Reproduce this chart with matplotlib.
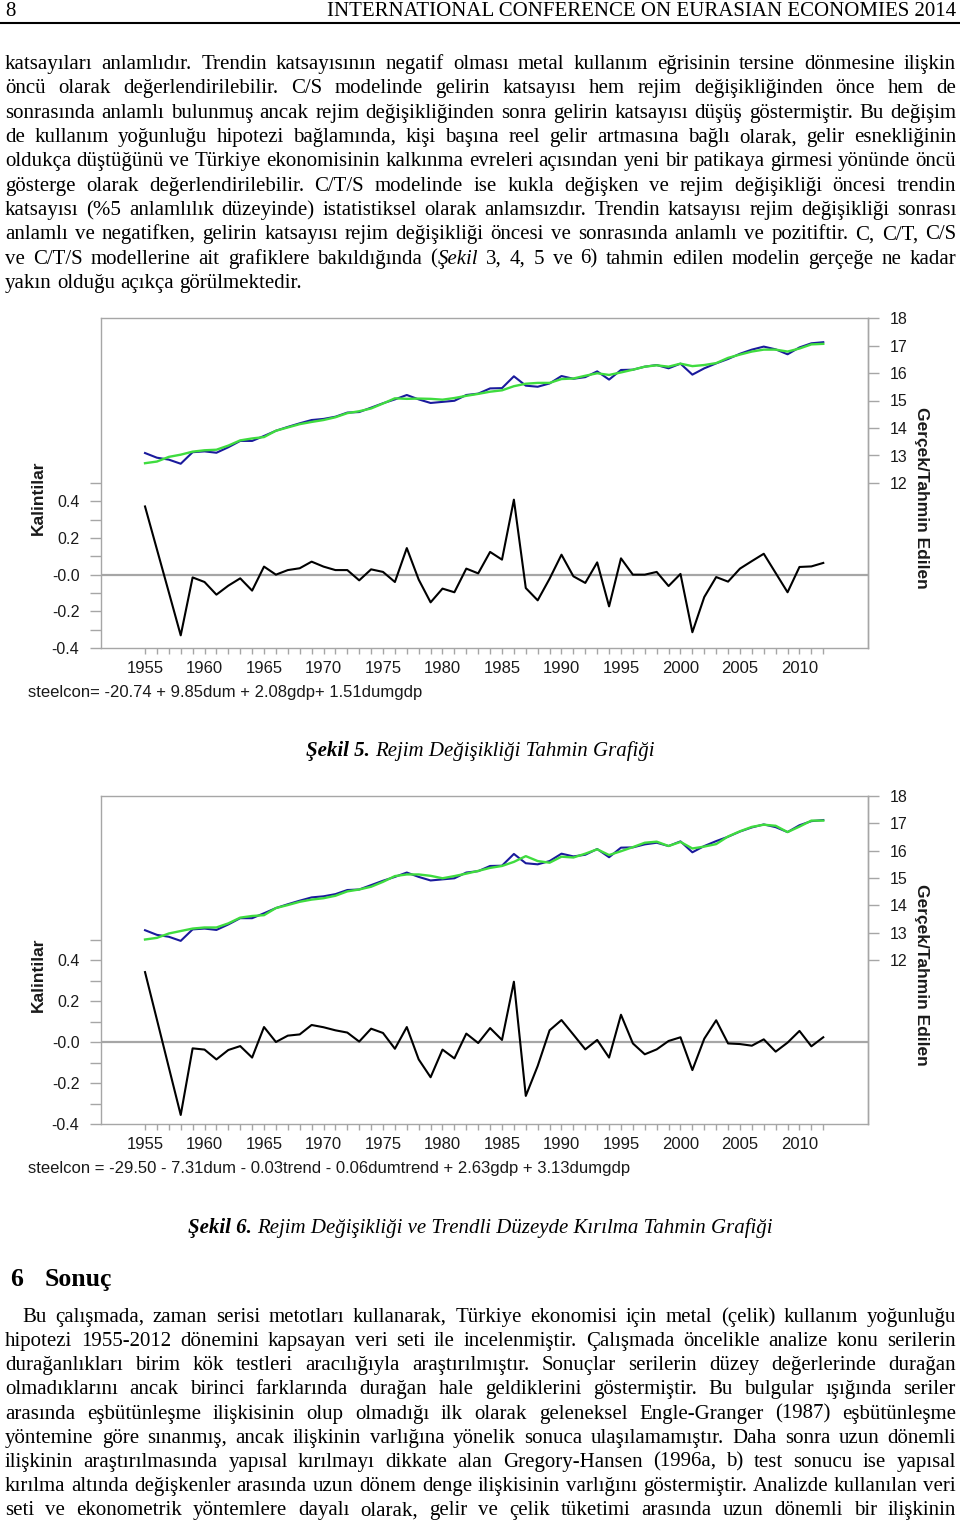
import numpy as np
import matplotlib
matplotlib.use('Agg')
import matplotlib.pyplot as plt
from matplotlib.font_manager import FontProperties
from matplotlib.lines import Line2D

plt.rcParams['font.family'] = 'Liberation Sans'

# ---- data (1955-2012) ----
years = np.arange(1955, 2013)

actual = [13.09, 12.92, 12.85, 12.70, 13.12, 13.15, 13.10, 13.30, 13.53, 13.53,
          13.71, 13.90, 14.04, 14.17, 14.29, 14.33, 14.41, 14.56, 14.58, 14.74,
          14.90, 15.04, 15.20, 15.04, 14.91, 14.95, 14.99, 15.20, 15.25, 15.44,
          15.45, 15.88, 15.54, 15.50, 15.62, 15.89, 15.79, 15.85, 16.06, 15.76,
          16.11, 16.12, 16.23, 16.29, 16.17, 16.34, 15.94, 16.17, 16.35, 16.51,
          16.70, 16.85, 16.96, 16.86, 16.68, 16.93, 17.08, 17.12]

resid5 = [0.372, 0.138, -0.096, -0.331, -0.015, -0.040, -0.109, -0.060, -0.020, -0.087,
          0.044, 0.000, 0.025, 0.035, 0.071, 0.044, 0.025, 0.025, -0.031, 0.029,
          0.015, -0.040, 0.145, -0.027, -0.151, -0.076, -0.096, 0.033, 0.007, 0.124,
          0.082, 0.409, -0.073, -0.140, -0.022, 0.109, -0.009, -0.045, 0.067, -0.173,
          0.089, 0.000, 0.000, 0.015, -0.062, 0.004, -0.314, -0.122, -0.013, -0.038,
          0.033, 0.074, 0.114, 0.009, -0.096, 0.042, 0.045, 0.064]

fitted5 = [12.72, 12.78, 12.95, 13.03, 13.14, 13.19, 13.21, 13.36, 13.55, 13.62,
           13.67, 13.90, 14.02, 14.14, 14.22, 14.29, 14.39, 14.54, 14.61, 14.71,
           14.89, 15.08, 15.06, 15.07, 15.06, 15.03, 15.09, 15.17, 15.24, 15.32,
           15.37, 15.52, 15.61, 15.64, 15.64, 15.78, 15.80, 15.90, 15.99, 15.93,
           16.02, 16.12, 16.23, 16.28, 16.23, 16.34, 16.25, 16.29, 16.36, 16.55,
           16.67, 16.78, 16.85, 16.85, 16.78, 16.89, 17.04, 17.06]

resid6 = [0.341, 0.109, -0.124, -0.356, -0.031, -0.037, -0.085, -0.039, -0.020, -0.076,
          0.073, 0.000, 0.031, 0.037, 0.083, 0.072, 0.057, 0.046, 0.002, 0.065,
          0.044, -0.033, 0.073, -0.085, -0.172, -0.037, -0.080, 0.041, -0.005, 0.068,
          0.010, 0.294, -0.263, -0.117, 0.057, 0.107, 0.036, -0.036, 0.010, -0.076,
          0.133, -0.007, -0.060, -0.036, 0.005, 0.023, -0.137, 0.016, 0.106, -0.007,
          -0.010, -0.018, 0.013, -0.047, -0.003, 0.054, -0.021, 0.023]

fitted6 = [12.75, 12.81, 12.97, 13.06, 13.15, 13.19, 13.19, 13.34, 13.55, 13.61,
           13.64, 13.90, 14.01, 14.13, 14.21, 14.26, 14.35, 14.51, 14.58, 14.68,
           14.86, 15.07, 15.13, 15.13, 15.08, 14.99, 15.07, 15.16, 15.26, 15.37,
           15.44, 15.59, 15.80, 15.62, 15.56, 15.78, 15.75, 15.89, 16.05, 15.84,
           15.98, 16.13, 16.29, 16.33, 16.17, 16.32, 16.08, 16.15, 16.24, 16.52,
           16.71, 16.87, 16.95, 16.91, 16.68, 16.88, 17.10, 17.10]

res_ticks = [-0.4, -0.2, 0.0, 0.2, 0.4]
res_ticklabels = ['-0.4', '-0.2', '-0.0', '0.2', '0.4']
res_minor = [-0.3, -0.1, 0.1, 0.3, 0.5]
lvl_ticks = [12, 13, 14, 15, 16, 17, 18]
year_ticks = list(range(1955, 2011, 5))

eq5 = 'steelcon= -20.74 + 9.85dum + 2.08gdp+ 1.51dumgdp'
eq6 = 'steelcon = -29.50 - 7.31dum - 0.03trend - 0.06dumtrend + 2.63gdp + 3.13dumgdp'

header_left = '8'
header_right = 'INTERNATIONAL CONFERENCE ON EURASIAN ECONOMIES 2014'

top_lines = [
    'katsayıları anlamlıdır. Trendin katsayısının negatif olması metal kullanım eğrisinin tersine dönmesine ilişkin',
    'öncü olarak değerlendirilebilir. C/S modelinde gelirin katsayısı hem rejim değişikliğinden önce hem de',
    'sonrasında anlamlı bulunmuş ancak rejim değişikliğinden sonra gelirin katsayısı düşüş göstermiştir. Bu değişim',
    'de kullanım yoğunluğu hipotezi bağlamında, kişi başına reel gelir artmasına bağlı olarak, gelir esnekliğinin',
    'oldukça düştüğünü ve Türkiye ekonomisinin kalkınma evreleri açısından yeni bir patikaya girmesi yönünde öncü',
    'gösterge olarak değerlendirilebilir. C/T/S modelinde ise kukla değişken ve rejim değişikliği öncesi trendin',
    'katsayısı (%5 anlamlılık düzeyinde) istatistiksel olarak anlamsızdır. Trendin katsayısı rejim değişikliği sonrası',
    'anlamlı ve negatifken, gelirin katsayısı rejim değişikliği öncesi ve sonrasında anlamlı ve pozitiftir. C, C/T, C/S',
    've C/T/S modellerine ait grafiklere bakıldığında (*Şekil* 3, 4, 5 ve 6) tahmin edilen modelin gerçeğe ne kadar',
    'yakın olduğu açıkça görülmektedir.',
]

bottom_lines = [
    'Bu çalışmada, zaman serisi metotları kullanarak, Türkiye ekonomisi için metal (çelik) kullanım yoğunluğu',
    'hipotezi 1955-2012 dönemini kapsayan veri seti ile incelenmiştir. Çalışmada öncelikle analize konu serilerin',
    'durağanlıkları birim kök testleri aracılığıyla araştırılmıştır. Sonuçlar serilerin düzey değerlerinde durağan',
    'olmadıklarını ancak birinci farklarında durağan hale geldiklerini göstermiştir. Bu bulgular ışığında seriler',
    'arasında eşbütünleşme ilişkisinin olup olmadığı ilk olarak geleneksel Engle-Granger (1987) eşbütünleşme',
    'yöntemine göre sınanmış, ancak ilişkinin varlığına yönelik sonuca ulaşılamamıştır. Daha sonra uzun dönemli',
    'ilişkinin araştırılmasında yapısal kırılmayı dikkate alan Gregory-Hansen (1996a, b) test sonucu ise yapısal',
    'kırılma altında değişkenler arasında uzun dönem denge ilişkisinin varlığını göstermiştir. Analizde kullanılan veri',
    'seti ve ekonometrik yöntemlere dayalı olarak, gelir ve çelik tüketimi arasında uzun dönemli bir ilişkinin',
]

GRAY = '#a6a6a6'
BLUE = '#1a1a9c'
GREEN = '#3fdc3f'
INK = '#1a1a1a'

W, H = 960, 1521
fig = plt.figure(figsize=(W / 100., H / 100.), dpi=100)
fig.patch.set_facecolor('white')
rend = fig.canvas.get_renderer()

def fx(x):
    return x / float(W)

def fy(y):
    return 1 - y / float(H)

body = FontProperties(family='Liberation Serif', size=15)
body_i = FontProperties(family='Liberation Serif', size=15, style='italic')
body_bi = FontProperties(family='Liberation Serif', size=15, style='italic', weight='bold')
head_b = FontProperties(family='Liberation Serif', size=18.5, weight='bold')

def width(s, prop):
    return rend.get_text_width_height_descent(s, prop, ismath=False)[0]

SPACE = width('a a', body) - width('aa', body)

def word_segs(word):
    segs = []
    for k, p in enumerate(word.split('*')):
        if p:
            segs.append((p, body_i if k % 2 else body))
    return segs

def paragraph(lines, base0, dy, x0=5, x1=956, indent=0, justify_last=False):
    for n, line in enumerate(lines):
        words = [word_segs(w) for w in line.split(' ')]
        ws = [sum(width(s, p) for s, p in wd) for wd in words]
        left = x0 + (indent if n == 0 else 0)
        last = (n == len(lines) - 1) and not justify_last
        if last:
            gap = SPACE
        else:
            gap = (x1 - left - sum(ws)) / (len(words) - 1)
        x = left
        base = base0 + n * dy
        for wd, w in zip(words, ws):
            xx = x
            for s, p in wd:
                fig.text(fx(xx), fy(base), s, fontproperties=p, va='baseline',
                         ha='left', color='black')
                xx += width(s, p)
            x += w + gap

def caption(segs, base, xc=480):
    ws = [width(s, p) for s, p in segs]
    total = sum(ws) + SPACE * (len(segs) - 1)
    x = xc - total / 2.
    for (s, p), w in zip(segs, ws):
        fig.text(fx(x), fy(base), s, fontproperties=p, va='baseline', ha='left')
        x += w + SPACE

def chart(top, bottom, res_lim, resid, fitted, eq, eq_y):
    ax = fig.add_axes([fx(101), fy(bottom), (868 - 101) / float(W), (bottom - top) / float(H)])
    ax.set_xlim(1951.3, 2015.76)
    ax.set_ylim(*res_lim)
    ax.axhline(0, color=GRAY, lw=1.6, zorder=1)
    ax.plot(years, resid, color='black', lw=1.5, zorder=3)
    for s in ax.spines.values():
        s.set_color(GRAY)
        s.set_linewidth(1.0)
    ax.set_xticks(year_ticks)
    ax.set_xticks(years, minor=True)
    ax.set_yticks(res_ticks)
    ax.set_yticklabels(res_ticklabels)
    ax.set_yticks(res_minor, minor=True)
    ax.tick_params(axis='x', which='both', direction='out', length=4, width=1,
                   color=GRAY, labelsize=12, labelcolor=INK, pad=5.5)
    ax.tick_params(axis='y', which='both', direction='out', length=8, width=1,
                   color=GRAY, labelsize=11.5, labelcolor=INK, pad=7.5)

    ax2 = ax.twinx()
    ax2.set_ylim(6, 18)
    ax2.plot(years, actual, color=BLUE, lw=1.5)
    ax2.plot(years, fitted, color=GREEN, lw=1.7)
    for k, s in ax2.spines.items():
        s.set_visible(k == 'right')
        s.set_color(GRAY)
        s.set_linewidth(1.0)
    ax2.set_yticks(lvl_ticks)
    ax2.tick_params(axis='y', direction='out', length=8, width=1, color=GRAY,
                    labelsize=11.5, labelcolor=INK, pad=7.5)

    mid = top + (bottom - top) * 0.545
    fig.text(fx(38), fy(mid), 'Kalintilar', rotation=90, ha='center', va='center',
             fontsize=12.5, fontweight='bold', color=INK)
    fig.text(fx(921), fy(mid), 'Gerçek/Tahmin Edilen', rotation=270, ha='center',
             va='center', fontsize=12.5, fontweight='bold', color=INK)
    fig.text(fx(28), fy(eq_y), eq, ha='left', va='center', fontsize=12, color=INK)

# header
fig.text(fx(5), fy(16), header_left, fontproperties=body, va='baseline', ha='left')
fig.text(fx(956), fy(16), header_right, fontproperties=body, va='baseline', ha='right')
fig.add_artist(Line2D([0, 1], [fy(22.5), fy(22.5)], color='black', lw=1.5,
                      transform=fig.transFigure))

paragraph(top_lines, 69, 24.35)

chart(318, 648, (-0.4, 1.4), resid5, fitted5, eq5, 693)
caption([('Şekil 5.', body_bi), ('Rejim Değişikliği Tahmin Grafiği', body_i)], 756)

chart(796, 1124, (-0.4, 1.2), resid6, fitted6, eq6, 1169)
caption([('Şekil 6.', body_bi), ('Rejim Değişikliği ve Trendli Düzeyde Kırılma Tahmin Grafiği', body_i)], 1233)

fig.text(fx(10), fy(1286), '6', fontproperties=head_b, va='baseline', ha='left')
fig.text(fx(45), fy(1286), 'Sonuç', fontproperties=head_b, va='baseline', ha='left')

paragraph(bottom_lines, 1322, 24.15, indent=17, justify_last=True)

fig.savefig('out.png', dpi=100, facecolor='white')
